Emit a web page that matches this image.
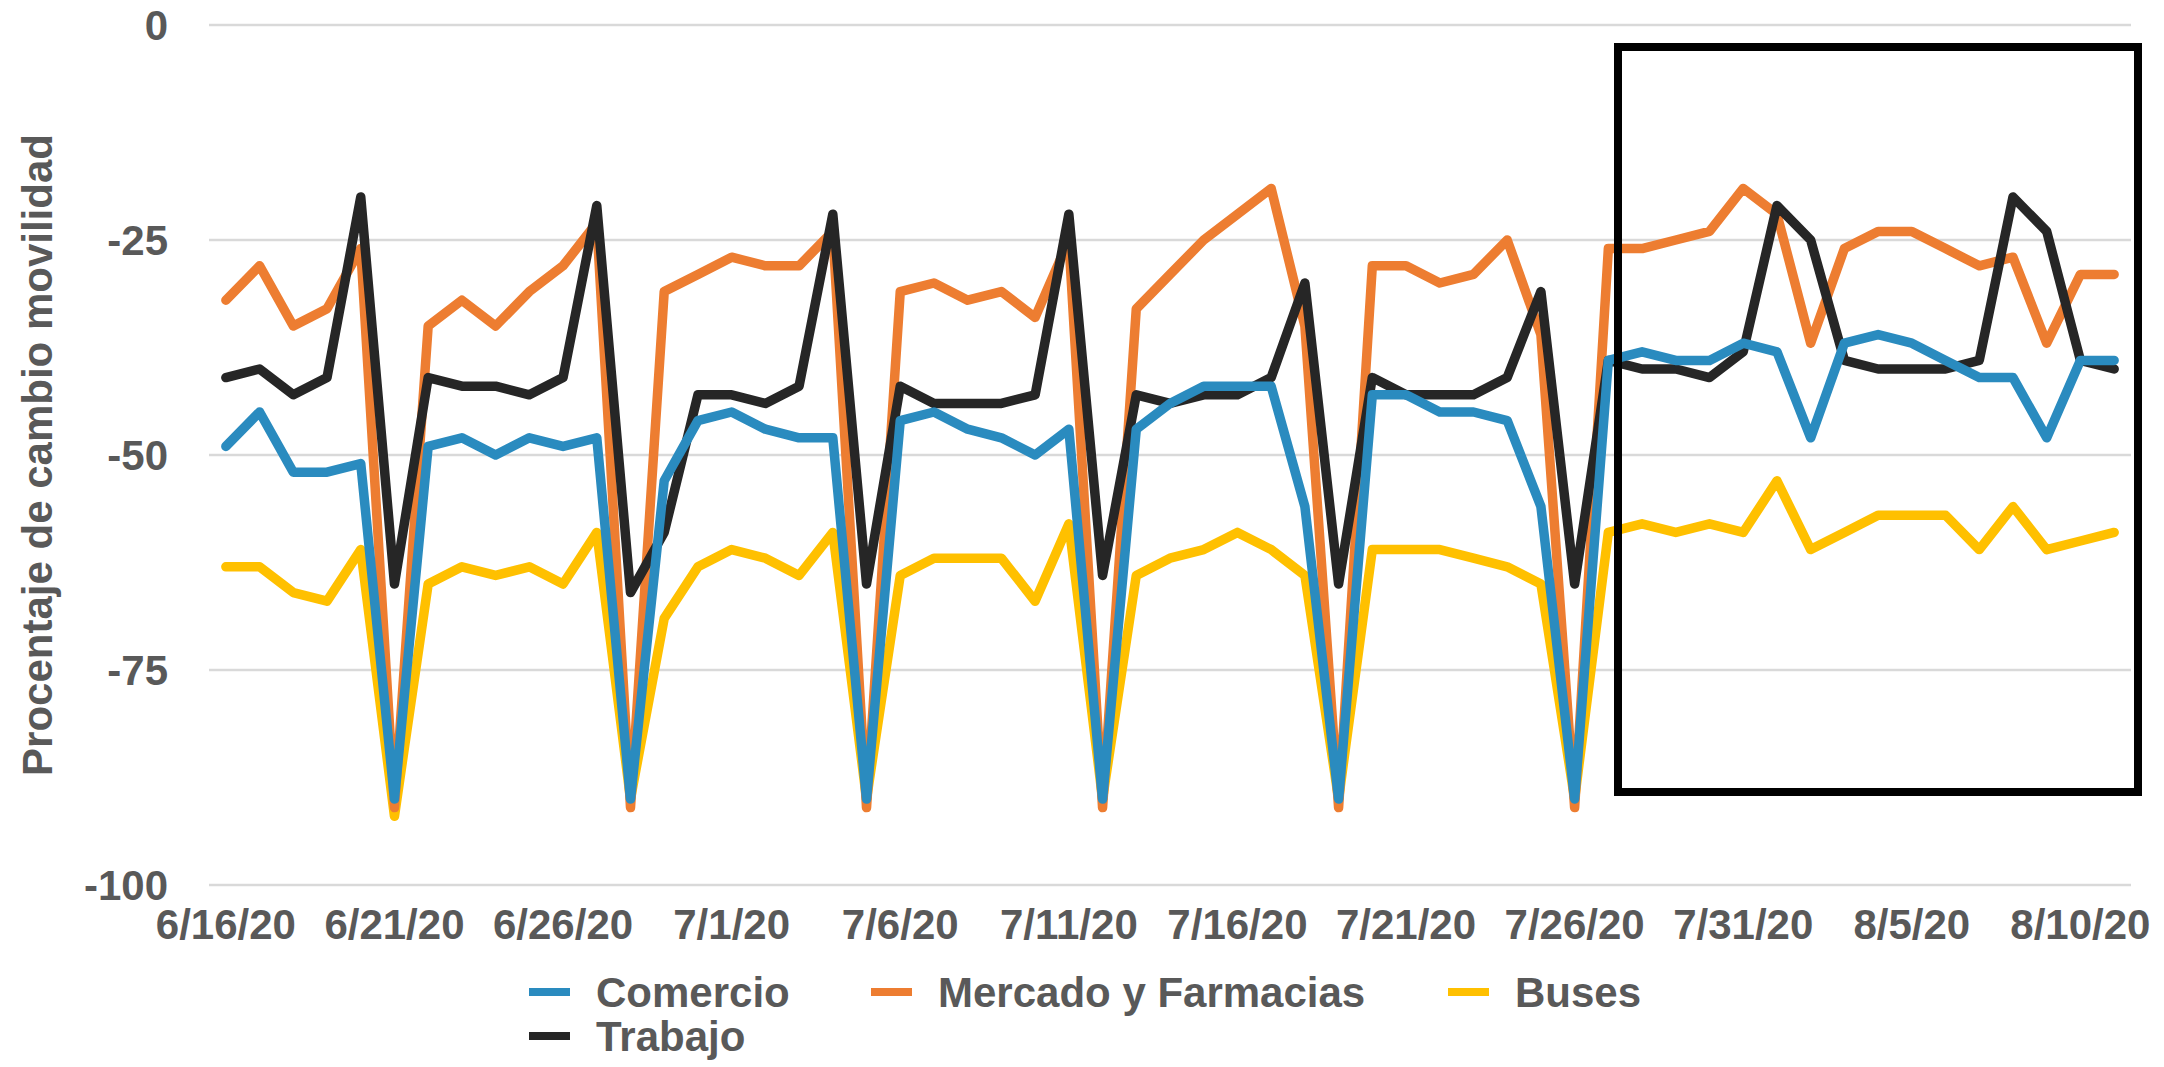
<!DOCTYPE html>
<html>
<head>
<meta charset="utf-8">
<script src="https://cdn.jsdelivr.net/npm/d3@7"></script>
<style>
  body { margin: 0; background: #fff; }
  text { font-family: 'Liberation Sans', Arial, sans-serif; font-weight: bold; fill: #595959; }
</style>
</head>
<body>
<div class="chartcontainer"></div>
<script>
// one value per day, 6/16/20 .. 8/11/20
const fmtDay = d => `${d.getMonth() + 1}/${d.getDate()}/${String(d.getFullYear()).slice(2)}`;
const days = d3.timeDay.range(new Date(2020, 5, 16), new Date(2020, 7, 12)).map(fmtDay);

const tickLabels = ['6/16/20', '6/21/20', '6/26/20', '7/1/20', '7/6/20', '7/11/20',
  '7/16/20', '7/21/20', '7/26/20', '7/31/20', '8/5/20', '8/10/20'];
const yTicks = [0, -25, -50, -75, -100];

const comercio = [-49, -45, -52, -52, -51, -90, -49, -48, -50, -48, -49, -48, -90, -53,
  -46, -45, -47, -48, -48, -90, -46, -45, -47, -48, -50, -47, -90, -47,
  -44, -42, -42, -42, -56, -90, -43, -43, -45, -45, -46, -56, -90, -39,
  -38, -39, -39, -37, -38, -48, -37, -36, -37, -39, -41, -41, -48, -39, -39];

const mercado = [-32, -28, -35, -33, -26, -91, -35, -32, -35, -31, -28, -23, -91, -31,
  -29, -27, -28, -28, -24, -91, -31, -30, -32, -31, -34, -25, -91, -33,
  -29, -25, -22, -19, -35, -91, -28, -28, -30, -29, -25, -36, -91, -26,
  -26, -25, -24, -19, -22, -37, -26, -24, -24, -26, -28, -27, -37, -29, -29];

const buses = [-63, -63, -66, -67, -61, -92, -65, -63, -64, -63, -65, -59, -90, -69,
  -63, -61, -62, -64, -59, -90, -64, -62, -62, -62, -67, -58, -90, -64,
  -62, -61, -59, -61, -64, -90, -61, -61, -61, -62, -63, -65, -90, -59,
  -58, -59, -58, -59, -53, -61, -59, -57, -57, -57, -61, -56, -61, -60, -59];

const trabajo = [-41, -40, -43, -41, -20, -65, -41, -42, -42, -43, -41, -21, -66, -59,
  -43, -43, -44, -42, -22, -65, -42, -44, -44, -44, -43, -22, -64, -43,
  -44, -43, -43, -41, -30, -65, -41, -43, -43, -43, -41, -31, -65, -39,
  -40, -40, -41, -38, -21, -25, -39, -40, -40, -40, -39, -20, -24, -39, -40];

const seriesNames = ['Comercio', 'Mercado y Farmacias', 'Buses', 'Trabajo'];
const seriesColors = ['#2a8bbf', '#ed7d31', '#ffc000', '#262626'];
const seriesValues = [comercio, mercado, buses, trabajo];
const drawOrder = [2, 1, 3, 0];

const width = 2164;
const height = 1067;

const svg = d3
  .select('.chartcontainer')
  .append('svg')
  .attr('width', width)
  .attr('height', height);

const x = d3
  .scalePoint()
  .domain(days)
  .range([209, 2131])
  .padding(0.5);

const y = d3
  .scaleLinear()
  .domain([-100, 0])
  .range([885, 25]);

// gridlines + y labels
svg
  .append('g')
  .selectAll('line')
  .data(yTicks)
  .enter()
  .append('line')
  .attr('x1', 209)
  .attr('x2', 2131)
  .attr('y1', d => y(d))
  .attr('y2', d => y(d))
  .attr('stroke', '#d9d9d9')
  .attr('stroke-width', 2.5);

svg
  .append('g')
  .selectAll('text')
  .data(yTicks)
  .enter()
  .append('text')
  .attr('x', 168)
  .attr('y', d => y(d))
  .attr('dy', '0.35em')
  .attr('text-anchor', 'end')
  .style('font-size', '42px')
  .text(d => d);

svg
  .append('text')
  .attr('transform', `translate(52,${(y(0) + y(-100)) / 2}) rotate(-90)`)
  .attr('text-anchor', 'middle')
  .style('font-size', '42px')
  .text('Procentaje de cambio movilidad');

// x labels every 5 days
svg
  .append('g')
  .selectAll('text')
  .data(tickLabels)
  .enter()
  .append('text')
  .attr('x', d => x(d))
  .attr('y', 939)
  .attr('text-anchor', 'middle')
  .style('font-size', '42px')
  .text(d => d);

const line = d3
  .line()
  .x((d, i) => x(days[i]))
  .y(d => y(d));

svg
  .append('g')
  .selectAll('path')
  .data(drawOrder)
  .enter()
  .append('path')
  .attr('d', k => line(seriesValues[k]))
  .attr('fill', 'none')
  .attr('stroke', k => seriesColors[k])
  .attr('stroke-width', 9.5)
  .attr('stroke-linejoin', 'round')
  .attr('stroke-linecap', 'round');

// highlight box over the last two weeks
svg
  .append('rect')
  .attr('x', 1618)
  .attr('y', 47)
  .attr('width', 520)
  .attr('height', 745)
  .attr('fill', 'none')
  .attr('stroke', '#000')
  .attr('stroke-width', 8);

// legend
const legendPos = [
  {mx: 529, tx: 596, y: 992},
  {mx: 871, tx: 938, y: 992},
  {mx: 1448, tx: 1515, y: 992},
  {mx: 529, tx: 596, y: 1036},
];

const legend = svg
  .append('g')
  .selectAll('g')
  .data(seriesNames)
  .enter()
  .append('g');

legend
  .append('rect')
  .attr('x', (d, i) => legendPos[i].mx)
  .attr('y', (d, i) => legendPos[i].y - 4)
  .attr('width', 41)
  .attr('height', 8)
  .attr('fill', (d, i) => seriesColors[i]);

legend
  .append('text')
  .attr('x', (d, i) => legendPos[i].tx)
  .attr('y', (d, i) => legendPos[i].y)
  .attr('dy', '0.35em')
  .style('font-size', '42px')
  .text(d => d);
</script>
</body>
</html>
